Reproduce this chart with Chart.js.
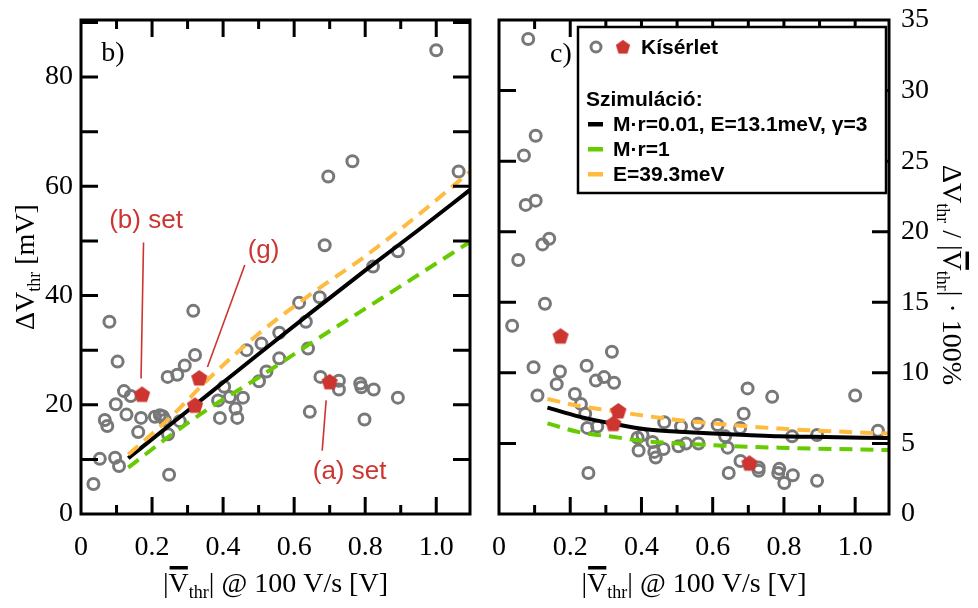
<!DOCTYPE html>
<html>
<head>
<meta charset="utf-8">
<script src="https://cdn.jsdelivr.net/npm/chart.js@4.4.1/dist/chart.umd.min.js"></script>
<style>
  html, body { margin: 0; padding: 0; background: #fff; }
  #wrap { position: relative; width: 978px; height: 608px; }
  #left { position: absolute; left: 0; top: 0; }
  #right { position: absolute; left: 480px; top: 0; }
</style>
</head>
<body>
<div id="wrap">
  <canvas id="left" width="480" height="608"></canvas>
  <canvas id="right" width="498" height="608"></canvas>
</div>
<script>
// panel b): threshold shift vs. mean threshold
const bExpX = [0.035, 0.053, 0.096, 0.107, 0.080, 0.103, 0.121, 0.140, 0.098, 0.128, 0.067, 0.074,
  0.169, 0.161, 0.208, 0.230, 0.222, 0.236, 0.245, 0.278, 0.248, 0.244, 0.271, 0.292, 0.321, 0.316,
  0.403, 0.386, 0.419, 0.435, 0.456, 0.391, 0.440, 0.466, 0.508, 0.501, 0.522, 0.558, 0.558, 0.614,
  0.672, 0.633, 0.639, 0.644, 0.674, 0.726, 0.726, 0.786, 0.789, 0.824, 0.798, 0.892, 1.000, 0.764,
  0.696, 1.063, 0.686, 0.822, 0.892];
const bExpY = [5.5, 10.1, 10.3, 8.8, 35.2, 27.9, 22.5, 21.6, 20.1, 18.2, 17.2, 16.1,
  17.6, 15.0, 17.8, 17.9, 18.1, 17.2, 14.6, 17.0, 7.2, 25.1, 25.5, 27.2, 29.1, 37.2,
  23.3, 20.8, 21.4, 19.3, 21.3, 17.6, 17.6, 30.0, 31.2, 24.3, 26.1, 28.5, 33.2, 38.7,
  39.7, 35.2, 30.3, 18.7, 25.1, 24.4, 22.8, 23.9, 23.2, 22.8, 17.3, 21.3, 84.9, 64.6,
  61.8, 62.7, 49.2, 45.3, 48.1];
const bSetX = [0.172, 0.333, 0.321, 0.700];
const bSetY = [21.9, 24.9, 19.9, 24.2];
const bSimX = [0.133, 0.25, 0.36, 0.5, 0.65, 0.8, 0.95, 1.094];
const bFitY = [10.2, 16.3, 22.0, 29.3, 37.0, 44.6, 52.0, 59.3];
const bMrY = [8.5, 14.3, 19.3, 25.0, 31.4, 37.6, 43.8, 49.8];
const bEY = [10.9, 17.6, 24.8, 33.0, 40.4, 47.2, 54.8, 62.6];

// panel c): relative threshold shift
const cExpX = [0.082, 0.103, 0.070, 0.075, 0.103, 0.122, 0.141, 0.054, 0.037, 0.129, 0.097, 0.108,
  0.171, 0.162, 0.246, 0.317, 0.272, 0.295, 0.323, 0.213, 0.230, 0.242, 0.248, 0.276, 0.251, 0.389,
  0.403, 0.392, 0.431, 0.436, 0.440, 0.462, 0.464, 0.504, 0.525, 0.511, 0.558, 0.560, 0.614, 0.635,
  0.642, 0.677, 0.687, 0.698, 0.645, 0.678, 0.729, 0.729, 0.767, 0.787, 0.784, 0.801, 0.825, 0.823,
  0.893, 0.893, 1.000, 1.064];
const cExpY = [33.65, 26.8, 25.4, 21.9, 22.2, 19.1, 19.5, 18.0, 13.34, 14.9, 10.4, 8.4,
  10.1, 9.2, 10.5, 11.5, 9.45, 9.7, 9.3, 8.5, 7.8, 7.1, 6.1, 6.2, 2.9, 5.4,
  5.6, 4.5, 5.1, 4.4, 4.0, 4.6, 6.5, 4.8, 5.0, 6.2, 6.4, 5.0, 6.3, 5.5,
  4.7, 6.1, 7.1, 8.9, 2.9, 3.75, 3.3, 3.06, 8.3, 3.2, 2.9, 2.2, 2.75, 5.5,
  5.6, 2.35, 8.4, 5.9];
const cSetX = [0.173, 0.335, 0.321, 0.703];
const cSetY = [12.6, 7.3, 6.4, 3.6];
const cSimX = [0.136, 0.225, 0.319, 0.412, 0.506, 0.6, 0.694, 0.787, 0.881, 1.092];
const cFitY = [7.54, 6.9, 6.4, 6.0, 5.83, 5.7, 5.6, 5.5, 5.47, 5.38];
const cMrY = [6.42, 5.8, 5.47, 5.15, 5.0, 4.88, 4.76, 4.7, 4.64, 4.53];
const cEY = [8.15, 7.65, 7.3, 6.95, 6.65, 6.42, 6.22, 6.05, 5.92, 5.7];

const xTicksMajor = [0.2, 0.4, 0.6, 0.8, 1.0];
const xTicksMinor = [0.1, 0.3, 0.5, 0.7, 0.9];
const bYTicks = [10, 20, 30, 40, 50, 60, 70, 80, 90];
const cYTicks = [5, 10, 15, 20, 25, 30];

// annotations of panel b) in data units: label position, then line from/to
const notes = [
  { text: "(b) set", at: [0.183, 53.7], from: [0.176, 49.7], to: [0.169, 24.8] },
  { text: "(g)", at: [0.514, 48.2], from: [0.461, 45.6], to: [0.356, 26.9] },
  { text: "(a) set", at: [0.756, 7.8], from: [0.690, 20.8], to: [0.679, 11.6] },
];

const serif = '"Liberation Serif", "Times New Roman", serif';
const sans = '"Liberation Sans", Arial, sans-serif';
const GRAY = "#787878", RED = "#cc3530", ORANGE = "#ffbb40", GREEN = "#66cc00";

// pentagon marker (Chart.js has no built-in one)
const penta = document.createElement("canvas");
penta.width = 18; penta.height = 18;
(function () {
  const c = penta.getContext("2d");
  c.fillStyle = RED;
  c.beginPath();
  for (let i = 0; i < 5; i++) {
    const ang = -Math.PI / 2 + i * 2 * Math.PI / 5;
    c.lineTo(9 + 8.5 * Math.cos(ang), 9.5 + 8.5 * Math.sin(ang));
  }
  c.closePath();
  c.fill();
})();

const pts = (xs, ys) => xs.map((x, i) => ({ x, y: ys[i] }));

function datasets(expX, expY, setX, setY, simX, fitY, mrY, eY) {
  const line = (ys, color, dash) => ({
    data: pts(simX, ys), showLine: true, pointRadius: 0, borderColor: color,
    borderWidth: 4, borderDash: dash, cubicInterpolationMode: "monotone", order: 1,
  });
  return [
    { data: pts(setX, setY), pointStyle: penta, pointRadius: 9, order: 0 },
    line(eY, ORANGE, [13, 8]),
    line(mrY, GREEN, [13, 8]),
    line(fitY, "#000", []),
    { data: pts(expX, expY), pointRadius: 5.5, borderWidth: 3, borderColor: GRAY,
      backgroundColor: "rgba(0,0,0,0)", order: 2 },
  ];
}

// box around the plot with inward ticks on all four sides
const frame = {
  id: "frame",
  afterDatasetsDraw(chart, args, o) {
    const { ctx, chartArea: a, scales: { x, y } } = chart;
    ctx.save();
    ctx.strokeStyle = "#000";
    ctx.lineWidth = 3;
    ctx.beginPath();
    const xt = (v, len) => {
      const p = x.getPixelForValue(v);
      ctx.moveTo(p, a.bottom); ctx.lineTo(p, a.bottom - len);
      ctx.moveTo(p, a.top); ctx.lineTo(p, a.top + len);
    };
    xTicksMajor.forEach((v) => xt(v, 17));
    xTicksMinor.forEach((v) => xt(v, 9));
    o.yTicks.forEach((v) => {
      const p = y.getPixelForValue(v);
      ctx.moveTo(a.left, p); ctx.lineTo(a.left + 17, p);
      ctx.moveTo(a.right, p); ctx.lineTo(a.right - 17, p);
    });
    ctx.stroke();
    ctx.strokeRect(a.left, a.top, a.right - a.left, a.bottom - a.top);
    ctx.restore();
  },
};

// text with subscripts and an overbar, centred at (cx, cy)
function rich(ctx, parts, cx, cy, rot) {
  const big = "28px " + serif, small = "18px " + serif;
  let w = 0;
  parts.forEach(([t, k]) => { ctx.font = k === "sub" ? small : big; w += ctx.measureText(t).width; });
  ctx.save();
  ctx.translate(cx, cy);
  ctx.rotate(rot);
  ctx.fillStyle = "#000";
  ctx.textAlign = "left";
  ctx.textBaseline = "alphabetic";
  let xx = -w / 2;
  const base = 9;
  parts.forEach(([t, k]) => {
    ctx.font = k === "sub" ? small : big;
    const tw = ctx.measureText(t).width;
    ctx.fillText(t, xx, k === "sub" ? base + 6 : base);
    if (k === "bar") ctx.fillRect(xx + 1, base - 26, tw - 2, 3.5);
    xx += tw;
  });
  ctx.restore();
}

const xTitle = [["|"], ["V", "bar"], ["thr", "sub"], ["| @ 100 V/s [V]"]];

function baseOptions(yMax, yStep, yPos, yWidth, pad) {
  return {
    responsive: false,
    animation: false,
    layout: { padding: pad },
    plugins: { legend: { display: false }, tooltip: { enabled: false } },
    scales: {
      x: {
        type: "linear", min: 0, max: 1.095,
        grid: { display: false, drawTicks: false }, border: { display: false },
        ticks: { stepSize: 0.2, includeBounds: false, padding: 17, maxRotation: 0,
          color: "#000", font: { family: serif, size: 28 },
          callback: (v) => (v === 0 ? "0" : v.toFixed(1)) },
        afterFit: (s) => { s.height = 94; s.paddingLeft = 0; s.paddingRight = 0; },
      },
      y: {
        position: yPos, min: 0, max: yMax,
        grid: { display: false, drawTicks: false }, border: { display: false },
        ticks: { stepSize: yStep, includeBounds: false, padding: yPos === "left" ? 8 : 12,
          color: "#000", font: { family: serif, size: 28 } },
        afterFit: (s) => { s.width = yWidth; s.paddingTop = 0; s.paddingBottom = 0; },
      },
    },
  };
}

// left panel
const leftOpts = baseOptions(90.45, 20, "left", 81, { top: 20, right: 10, left: 0, bottom: 0 });
leftOpts.plugins.frame = { yTicks: bYTicks };
new Chart(document.getElementById("left"), {
  type: "scatter",
  data: { datasets: datasets(bExpX, bExpY, bSetX, bSetY, bSimX, bFitY, bMrY, bEY) },
  options: leftOpts,
  plugins: [frame, {
    id: "decorB",
    afterDraw(chart) {
      const { ctx, chartArea: a, scales: { x, y } } = chart;
      ctx.save();
      ctx.fillStyle = "#000";
      ctx.textAlign = "center";
      ctx.textBaseline = "middle";
      ctx.font = "28px " + serif;
      ctx.fillText("b)", a.left + 32, a.top + 34);
      ctx.strokeStyle = RED;
      ctx.fillStyle = RED;
      ctx.lineWidth = 1.6;
      ctx.font = "26px " + sans;
      notes.forEach((n) => {
        ctx.beginPath();
        ctx.moveTo(x.getPixelForValue(n.from[0]), y.getPixelForValue(n.from[1]));
        ctx.lineTo(x.getPixelForValue(n.to[0]), y.getPixelForValue(n.to[1]));
        ctx.stroke();
        ctx.fillText(n.text, x.getPixelForValue(n.at[0]), y.getPixelForValue(n.at[1]));
      });
      ctx.restore();
      rich(ctx, xTitle, (a.left + a.right) / 2, 583, 0);
      rich(ctx, [["Δ"], ["V"], ["thr", "sub"], [" [mV]"]], 25, (a.top + a.bottom) / 2, -Math.PI / 2);
    },
  }],
});

// right panel
const rightOpts = baseOptions(35, 5, "right", 89, { top: 20, right: 0, left: 19, bottom: 0 });
rightOpts.plugins.frame = { yTicks: cYTicks };
new Chart(document.getElementById("right"), {
  type: "scatter",
  data: { datasets: datasets(cExpX, cExpY, cSetX, cSetY, cSimX, cFitY, cMrY, cEY) },
  options: rightOpts,
  plugins: [frame, {
    id: "decorC",
    afterDraw(chart) {
      const { ctx, chartArea: a } = chart;
      ctx.save();
      ctx.fillStyle = "#000";
      ctx.textAlign = "center";
      ctx.textBaseline = "middle";
      ctx.font = "28px " + serif;
      ctx.fillText("c)", a.left + 62, a.top + 35);
      // legend box
      const bx = a.left + 79, by = a.top + 7;
      ctx.fillStyle = "#fff";
      ctx.fillRect(bx, by, 308, 166);
      ctx.strokeStyle = "#000";
      ctx.lineWidth = 2.5;
      ctx.strokeRect(bx, by, 308, 166);
      ctx.strokeStyle = GRAY;
      ctx.lineWidth = 3;
      ctx.beginPath();
      ctx.arc(bx + 18, by + 20, 5, 0, Math.PI * 2);
      ctx.stroke();
      ctx.drawImage(penta, bx + 45 - 8, by + 20 - 8, 16, 16);
      ctx.fillStyle = "#000";
      ctx.textAlign = "left";
      ctx.font = "bold 21px " + sans;
      ctx.fillText("Kísérlet", bx + 63, by + 21);
      ctx.fillText("Szimuláció:", bx + 8, by + 73);
      const rows = [["M·r=0.01, E=13.1meV, γ=3", "#000"], ["M·r=1", GREEN], ["E=39.3meV", ORANGE]];
      rows.forEach(([t, c], i) => {
        const yy = by + 97 + i * 25;
        ctx.fillStyle = c;
        ctx.fillRect(bx + 10, yy - 2, 15, 4.5);
        ctx.fillStyle = "#000";
        ctx.fillText(t, bx + 35, yy + 1);
      });
      ctx.restore();
      rich(ctx, xTitle, (a.left + a.right) / 2, 583, 0);
      rich(ctx, [["Δ"], ["V"], ["thr", "sub"], [" / |"], ["V", "bar"], ["thr", "sub"], ["| · 100%"]],
        472, (a.top + a.bottom) / 2 + 8, Math.PI / 2);
    },
  }],
});
</script>
</body>
</html>
